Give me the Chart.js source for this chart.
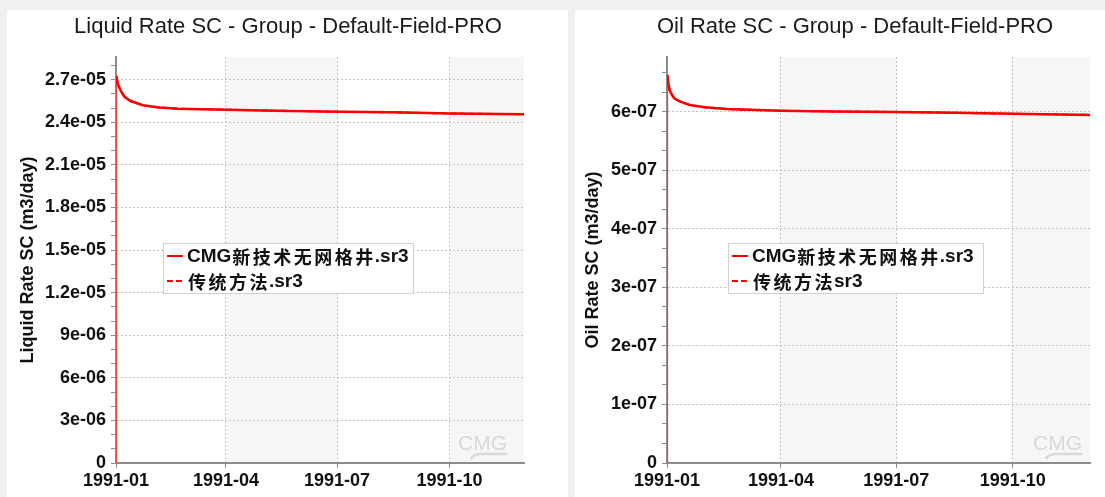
<!DOCTYPE html>
<html><head><meta charset="utf-8">
<script src="https://cdn.jsdelivr.net/npm/chart.js@4.4.1/dist/chart.umd.min.js"></script>
<style>
html,body{margin:0;padding:0;background:#f0f0f0;width:1105px;height:497px;overflow:hidden;}
.panel{position:absolute;background:#fff;}
#p1{left:7px;top:10px;width:561px;height:487px;}
#p2{left:575px;top:10px;width:530px;height:487px;}
canvas{display:block;}
</style></head><body>
<div class="panel" id="p1"><canvas id="c1" width="561" height="487"></canvas></div>
<div class="panel" id="p2"><canvas id="c2" width="530" height="487"></canvas></div>
<script>
// ---- data (x = days since 1991-01-01) ----
const liquidDays = [0, 0.3, 1, 2, 4, 7, 12, 22, 35, 51, 91, 130, 182, 227, 274, 334];
const liquidRateCMG = [0, 2.727e-5, 2.69e-5, 2.66e-5, 2.62e-5, 2.58e-5, 2.55e-5, 2.52e-5, 2.505e-5, 2.496e-5, 2.489e-5, 2.482e-5, 2.475e-5, 2.47e-5, 2.462e-5, 2.457e-5];
const liquidRateTrad = [0, 2.727e-5, 2.69e-5, 2.66e-5, 2.62e-5, 2.58e-5, 2.55e-5, 2.52e-5, 2.505e-5, 2.496e-5, 2.489e-5, 2.482e-5, 2.475e-5, 2.47e-5, 2.462e-5, 2.457e-5];
const oilDays = [0, 0.3, 1, 2, 4, 6, 10, 18, 30, 47, 90, 130, 181, 227, 273, 334];
const oilRateCMG = [0, 6.63e-7, 6.5e-7, 6.38e-7, 6.29e-7, 6.23e-7, 6.18e-7, 6.12e-7, 6.08e-7, 6.05e-7, 6.02e-7, 6.01e-7, 6.0e-7, 5.985e-7, 5.97e-7, 5.95e-7];
const oilRateTrad = [0, 6.63e-7, 6.5e-7, 6.38e-7, 6.29e-7, 6.23e-7, 6.18e-7, 6.12e-7, 6.08e-7, 6.05e-7, 6.02e-7, 6.01e-7, 6.0e-7, 5.985e-7, 5.97e-7, 5.95e-7];

const xTickDays = [0, 90, 181, 273];
const xTickLabels = ['1991-01', '1991-04', '1991-07', '1991-10'];
const xMaxDay = 334;
const shadeBands = [[90, 181], [273, 334]];

const liquidYTicks = [0, 3e-6, 6e-6, 9e-6, 1.2e-5, 1.5e-5, 1.8e-5, 2.1e-5, 2.4e-5, 2.7e-5];
const liquidYLabels = ['0', '3e-06', '6e-06', '9e-06', '1.2e-05', '1.5e-05', '1.8e-05', '2.1e-05', '2.4e-05', '2.7e-05'];
const liquidYMax = 2.86e-5;
const oilYTicks = [0, 1e-7, 2e-7, 3e-7, 4e-7, 5e-7, 6e-7];
const oilYLabels = ['0', '1e-07', '2e-07', '3e-07', '4e-07', '5e-07', '6e-07'];
const oilYMax = 6.94e-7;

const seriesNames1 = ['CMG新技术无网格井.sr3', '传统方法.sr3'];
const seriesNames2 = ['CMG新技术无网格井.sr3', '传统方法sr3'];
const titles = ['Liquid Rate SC - Group - Default-Field-PRO', 'Oil Rate SC - Group - Default-Field-PRO'];
const yTitles = ['Liquid Rate SC (m3/day)', 'Oil Rate SC (m3/day)'];

// ---- plugins ----
const decor = {
  id: 'decor',
  beforeDraw(chart, args, o) {
    const {ctx, chartArea: a, scales: {x}} = chart;
    ctx.save();
    ctx.fillStyle = '#f6f6f6';
    shadeBands.forEach(([s, e]) => {
      const x1 = x.getPixelForValue(s), x2 = x.getPixelForValue(e);
      ctx.fillRect(x1, a.top, x2 - x1, a.bottom - a.top);
    });
    // title
    ctx.fillStyle = '#1a1a1a';
    ctx.font = '22px "Liberation Sans", Arial, sans-serif';
    ctx.textAlign = 'center';
    ctx.textBaseline = 'middle';
    ctx.fillText(o.title, o.titleX, 17);
    // watermark
    const wx = a.right - o.wmRight, wy = a.bottom - 13;
    ctx.fillStyle = '#d9d9d9';
    ctx.font = '21px "Liberation Sans Narrow", "Liberation Sans", sans-serif';
    ctx.textAlign = 'right';
    ctx.textBaseline = 'alphabetic';
    ctx.fillText('CMG', wx, wy);
    ctx.strokeStyle = '#d9d9d9';
    ctx.lineWidth = 2.5;
    ctx.beginPath();
    ctx.moveTo(wx - 36, wy + 9);
    ctx.quadraticCurveTo(wx - 34, wy + 4, wx - 26, wy + 4);
    ctx.lineTo(wx, wy + 4);
    ctx.stroke();
    ctx.restore();
  },
  afterDraw(chart, args, o) {
    const {ctx} = chart;
    const L = o.legend;
    ctx.save();
    ctx.fillStyle = '#fff';
    ctx.fillRect(L.x, L.y, L.w, L.h);
    ctx.strokeStyle = '#d0d0d0';
    ctx.lineWidth = 1;
    ctx.strokeRect(L.x + 0.5, L.y + 0.5, L.w, L.h);
    chart.data.datasets.forEach((ds, i) => {
      const cy = L.y + 13 + i * 25;
      ctx.strokeStyle = '#ff0000';
      ctx.lineWidth = 2;
      ctx.setLineDash(i === 1 ? [6, 3] : []);
      ctx.beginPath();
      ctx.moveTo(L.x + 4, cy);
      ctx.lineTo(L.x + 20, cy);
      ctx.stroke();
      ctx.setLineDash([]);
      let tx = L.x + 24;
      ctx.fillStyle = '#111';
      ctx.textBaseline = 'middle';
      ctx.textAlign = 'left';
      for (const ch of ds.label) {
        const cjk = /[\u3400-\u9fff]/.test(ch);
        if (cjk) {
          ctx.font = 'bold 18px "Noto Sans CJK SC", sans-serif';
          ctx.fillText(ch, tx + 1, cy + 1);
          tx += 20.5;
        } else {
          ctx.font = 'bold 19px "Liberation Sans", Arial, sans-serif';
          ctx.fillText(ch, tx, cy + 1);
          tx += ctx.measureText(ch).width;
        }
      }
    });
    ctx.restore();
  }
};

function makeChart(id, days, s1, s2, names, yTicks, yLabels, yMax, o) {
  const minorTicks = [];
  for (let i = 0; i < yTicks.length; i++) {
    const step = yTicks[1] - yTicks[0];
    for (let k = 0; k < 3; k++) {
      const v = yTicks[i] + k * step / 3;
      if (v <= yMax) minorTicks.push({value: k === 0 ? yTicks[i] : v, minor: k !== 0});
    }
  }
  const toPts = (arr) => arr.map((v, i) => ({x: days[i], y: v}));
  const seg = {
    borderWidth: (c) => c.p0DataIndex === 0 ? 1.5 : undefined,
    borderColor: (c) => c.p0DataIndex === 0 ? '#ee4444' : undefined
  };
  return new Chart(document.getElementById(id), {
    type: 'line',
    data: {
      datasets: [
        {label: names[0], data: toPts(s1), borderColor: '#ff0000', borderWidth: 2.5, pointRadius: 0, tension: 0, order: 1, segment: seg},
        {label: names[1], data: toPts(s2), borderColor: '#ff0000', borderWidth: 2, borderDash: [6, 3], pointRadius: 0, tension: 0, order: 2, segment: seg}
      ]
    },
    options: {
      responsive: false, animation: false, devicePixelRatio: 1,
      layout: {padding: {left: 0, right: o.padRight, top: 47, bottom: 0}},
      plugins: {
        legend: {display: false}, tooltip: {enabled: false}, title: {display: false},
        decor: o
      },
      scales: {
        x: {
          type: 'linear', min: 0, max: xMaxDay,
          afterFit(s) { s.height = 34; },
          afterBuildTicks(s) { s.ticks = xTickDays.map(v => ({value: v})); },
          ticks: {
            autoSkip: false, maxRotation: 0, padding: 2, color: '#111',
            font: {family: '"Liberation Sans", Arial, sans-serif', size: 18, weight: 'bold'},
            callback: (v) => { const i = xTickDays.indexOf(v); return i >= 0 ? xTickLabels[i] : ''; }
          },
          grid: {color: '#c4c4c4', lineWidth: 1, tickColor: '#8c8c8c', tickLength: 5, tickWidth: 1},
          border: {display: true, color: '#8c8c8c', width: 2, dash: [2, 2]}
        },
        y: {
          type: 'linear', min: 0, max: yMax,
          afterFit(s) { s.width = o.yWidth; },
          afterBuildTicks(s) { s.ticks = minorTicks.map(t => ({value: t.value, minor: t.minor})); },
          ticks: {
            autoSkip: false, padding: 5, color: '#111',
            font: {family: '"Liberation Sans", Arial, sans-serif', size: 18, weight: 'bold'},
            callback: (v) => { const i = yTicks.indexOf(v); return i >= 0 ? yLabels[i] : ''; }
          },
          grid: {
            color: (c) => (c.tick && c.tick.minor) ? 'rgba(0,0,0,0)' : '#c4c4c4',
            lineWidth: 1, tickColor: '#8c8c8c', tickLength: 5, tickWidth: 1
          },
          border: {display: true, color: '#8c8c8c', width: 2, dash: [2, 2]},
          title: {
            display: true, text: o.yTitle, color: '#111',
            font: {family: '"Liberation Sans", Arial, sans-serif', size: 18, weight: 'bold'},
            padding: {top: o.yTitlePad, bottom: 0}
          }
        }
      }
    },
    plugins: [decor]
  });
}

makeChart('c1', liquidDays, liquidRateCMG, liquidRateTrad, seriesNames1, liquidYTicks, liquidYLabels, liquidYMax,
  {title: titles[0], titleX: 281, yTitle: yTitles[0], yTitlePad: 10, yWidth: 109, padRight: 44, wmRight: 17,
   legend: {x: 156, y: 233, w: 250, h: 50}});
makeChart('c2', oilDays, oilRateCMG, oilRateTrad, seriesNames2, oilYTicks, oilYLabels, oilYMax,
  {title: titles[1], titleX: 280, yTitle: yTitles[1], yTitlePad: 7, yWidth: 92, padRight: 15, wmRight: 8,
   legend: {x: 153, y: 233, w: 255, h: 50}});
</script>
</body></html>
